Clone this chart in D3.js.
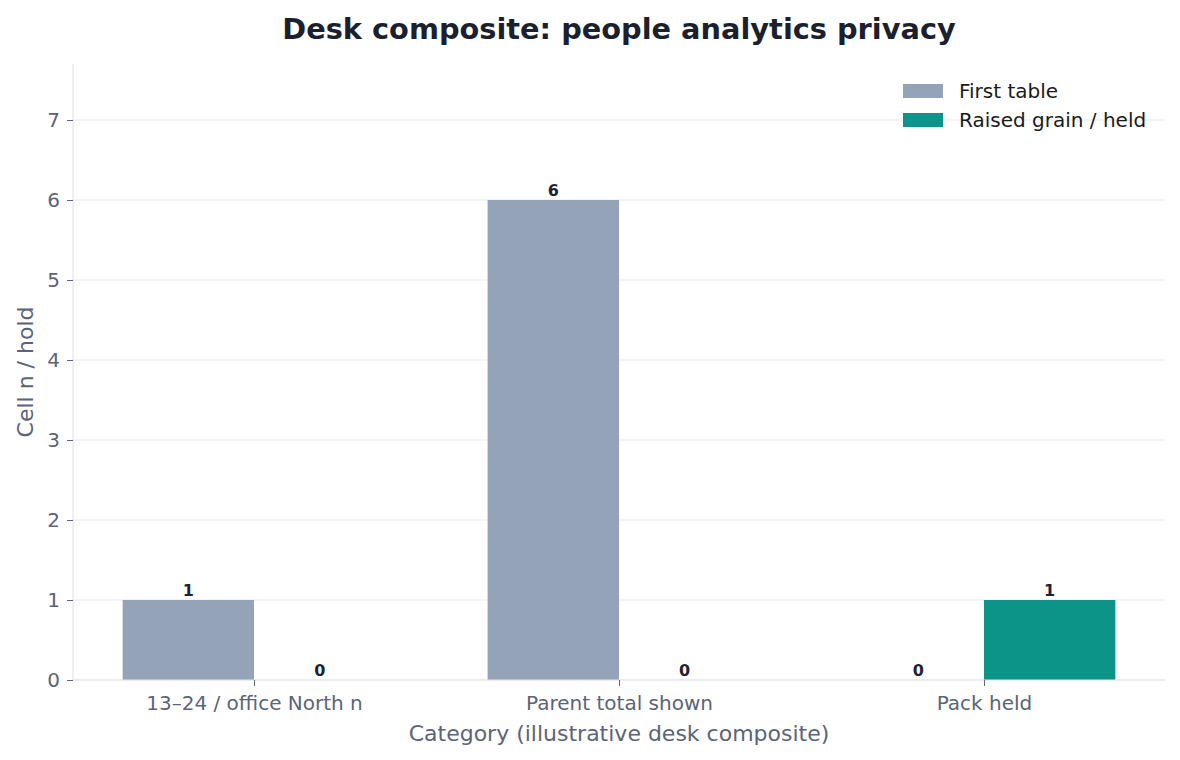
<!DOCTYPE html>
<html>
<head>
<meta charset="utf-8">
<script src="https://cdn.jsdelivr.net/npm/d3@7"></script>
<style>
  body { margin: 0; background: #fff; }
  svg { font-family: "DejaVu Sans", sans-serif; }
</style>
</head>
<body>
<svg id="chart"></svg>
<script>
// chart data
const categories = ["13–24 / office North n", "Parent total shown", "Pack held"];
const seriesNames = ["First table", "Raised grain / held"];
const firstTable = [1, 6, 0];
const raisedGrain = [0, 0, 1];
const yTicks = [0, 1, 2, 3, 4, 5, 6, 7];

const W = 1180, H = 760;
const margin = { top: 64, right: 15, bottom: 80, left: 73 };
const width = W - margin.left - margin.right;
const height = H - margin.top - margin.bottom;
const colors = ["#94a3b8", "#0d9488"];

const svg = d3.select("#chart").attr("width", W).attr("height", H);
const g = svg.append("g").attr("transform", `translate(${margin.left},${margin.top})`);

// numeric x like matplotlib: category i at i, bars of 0.36 each side
const barW = 0.36;
const x = d3.scaleLinear()
    .domain([-barW - 0.136, categories.length - 1 + barW + 0.136])
    .range([0, width]);
const y = d3.scaleLinear().domain([0, 7.7]).range([height, 0]);

// grid
g.append("g").selectAll("line").data(yTicks).join("line")
    .attr("x1", 0).attr("x2", width)
    .attr("y1", d => y(d)).attr("y2", d => y(d))
    .attr("stroke", "#e5e7eb").attr("stroke-width", 1.2);

// bars
const series = [firstTable, raisedGrain];
series.forEach((vals, s) => {
    const off = s === 0 ? -barW : 0;
    g.append("g").selectAll("rect").data(vals).join("rect")
        .attr("x", (d, i) => x(i + off))
        .attr("width", x(barW) - x(0))
        .attr("y", d => y(d))
        .attr("height", d => y(0) - y(d))
        .attr("fill", colors[s]);
    g.append("g").selectAll("text").data(vals).join("text")
        .attr("x", (d, i) => x(i + off + barW / 2))
        .attr("y", d => y(d) - 4)
        .attr("text-anchor", "middle")
        .attr("font-size", 16).attr("font-weight", "bold")
        .attr("fill", "#1f2330")
        .text(d => d);
});

// axes
const yAxis = g.append("g")
    .call(d3.axisLeft(y).tickValues(yTicks).tickSize(6).tickPadding(7));
const xAxis = g.append("g")
    .attr("transform", `translate(0,${height})`)
    .call(d3.axisBottom(x).tickValues(d3.range(categories.length))
        .tickFormat(i => categories[i]).tickSize(6).tickPadding(10));
[xAxis, yAxis].forEach(a => {
    a.select(".domain").attr("stroke", "#e2e5ea").attr("stroke-width", 1.2);
    a.selectAll(".tick line").attr("stroke", "#5b6478");
    a.selectAll(".tick text").attr("fill", "#5b6478").attr("font-size", 20)
        .attr("font-family", "DejaVu Sans, sans-serif");
});
// axis lines without the end caps
xAxis.select(".domain").attr("d", `M0,0H${width}`);
yAxis.select(".domain").attr("d", `M0,${height}V0`);

// axis titles
g.append("text")
    .attr("x", width / 2).attr("y", height + 61)
    .attr("text-anchor", "middle").attr("font-size", 22).attr("fill", "#5b6478")
    .text("Category (illustrative desk composite)");
g.append("text")
    .attr("transform", "rotate(-90)")
    .attr("x", -height / 2).attr("y", -40)
    .attr("text-anchor", "middle").attr("font-size", 22).attr("fill", "#5b6478")
    .text("Cell n / hold");

// title
svg.append("text")
    .attr("x", 619).attr("y", 39)
    .attr("text-anchor", "middle").attr("font-size", 28.8).attr("font-weight", "bold")
    .attr("fill", "#1b1f2e")
    .text("Desk composite: people analytics privacy");

// legend
const legend = svg.append("g").attr("transform", "translate(903,84)");
seriesNames.forEach((name, i) => {
    const row = legend.append("g").attr("transform", `translate(0,${i * 29})`);
    row.append("rect").attr("width", 40).attr("height", 14).attr("fill", colors[i]);
    row.append("text").attr("x", 56).attr("y", 14)
        .attr("font-size", 20).attr("fill", "#1a1a1a").text(name);
});
</script>
</body>
</html>
